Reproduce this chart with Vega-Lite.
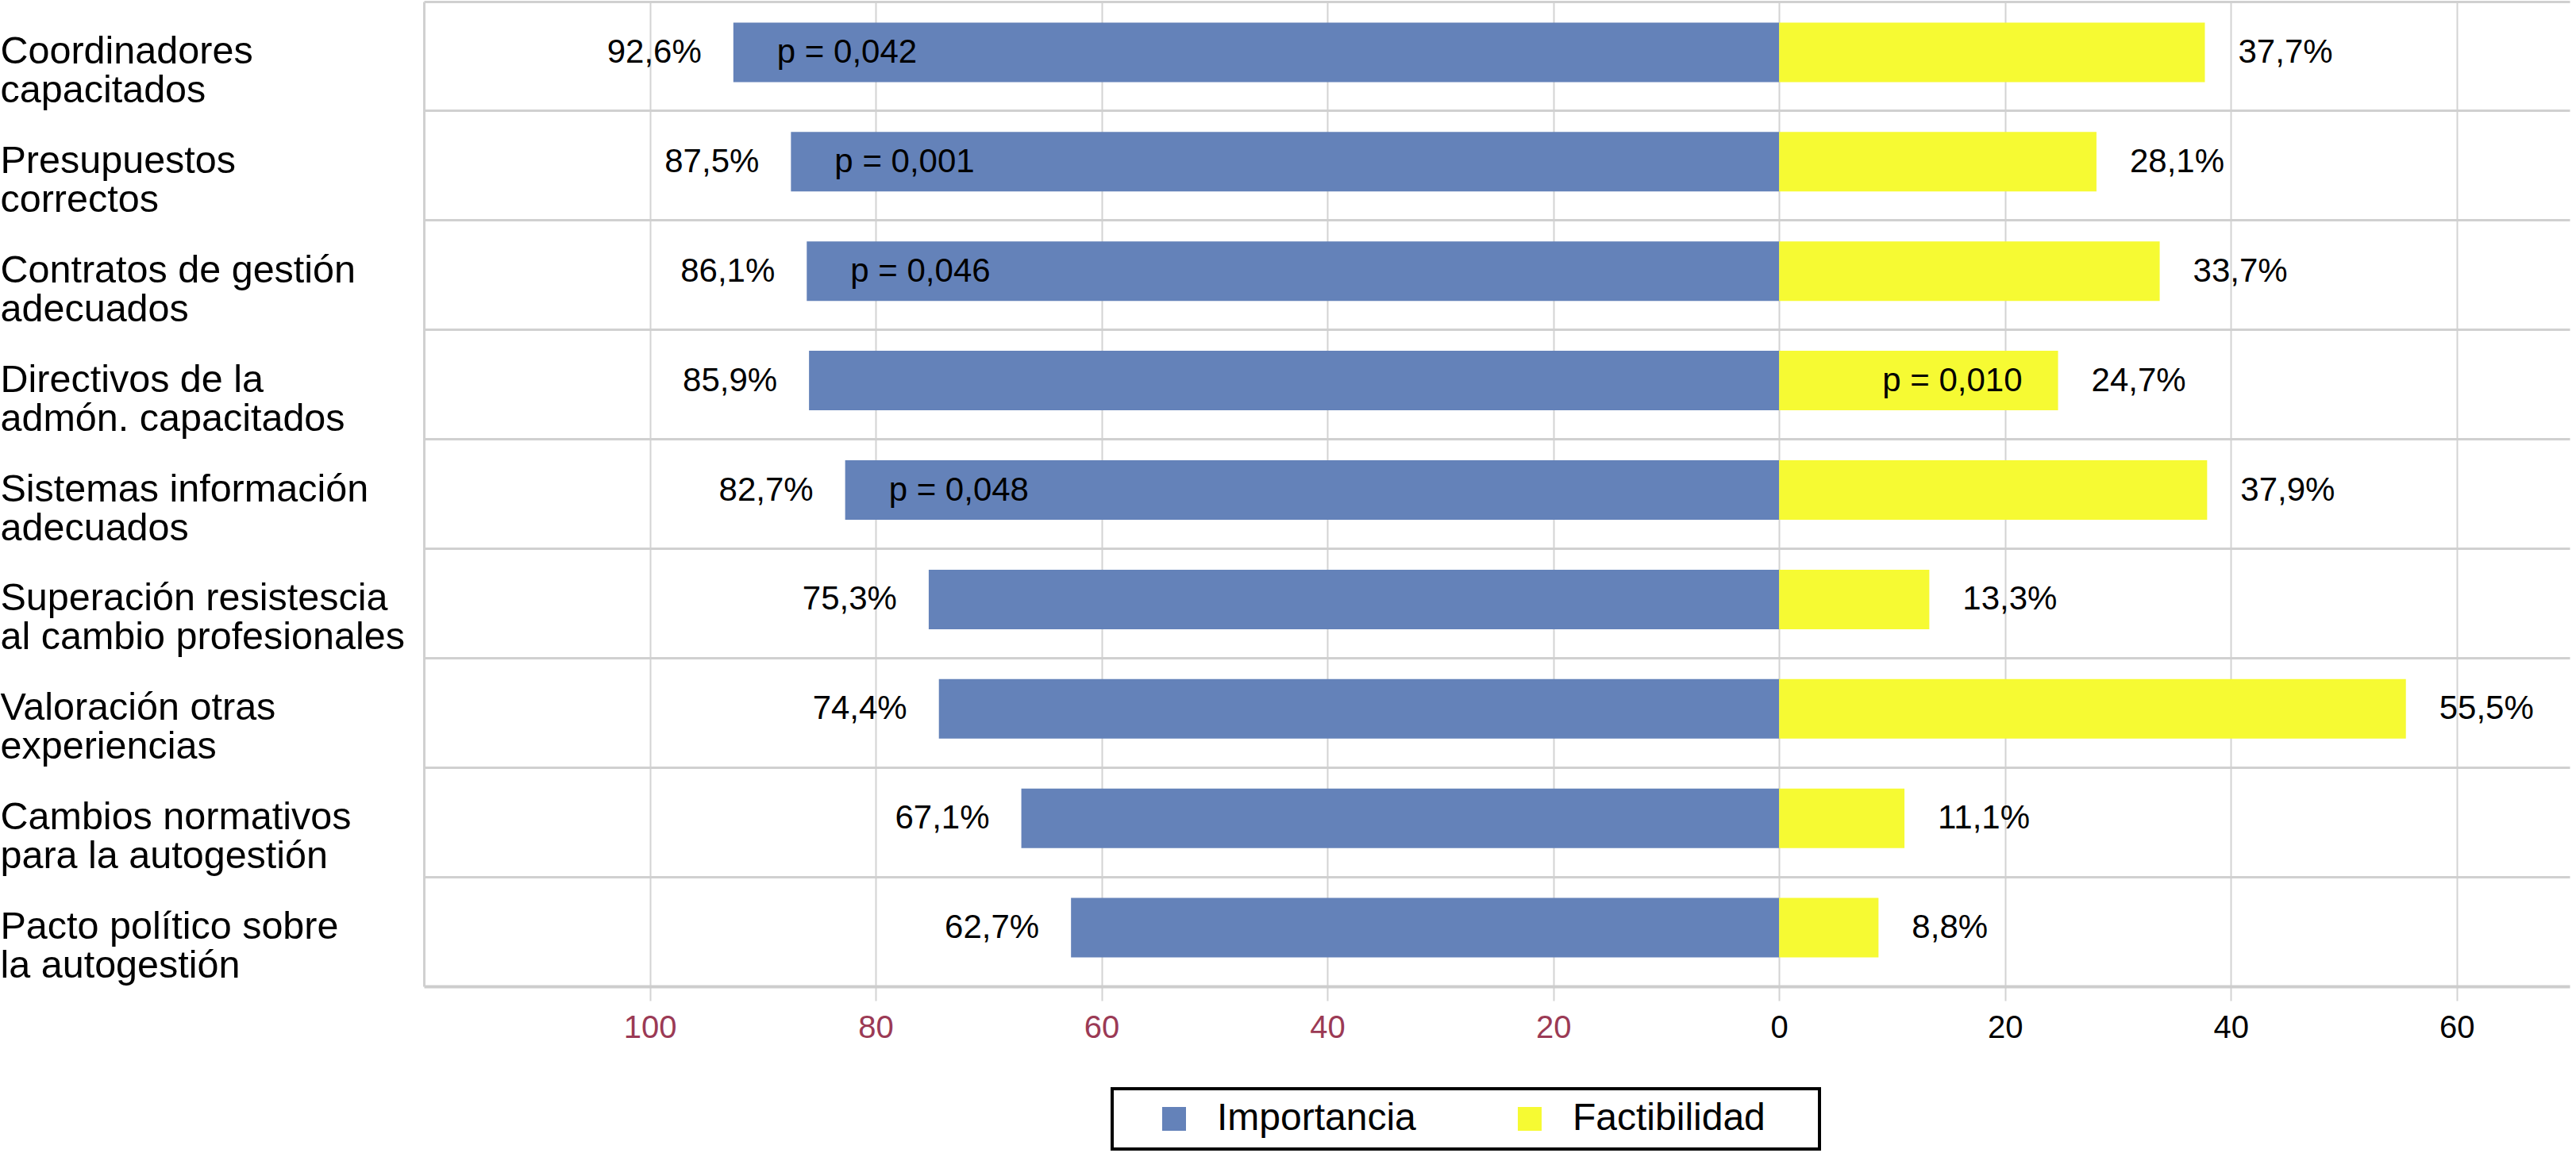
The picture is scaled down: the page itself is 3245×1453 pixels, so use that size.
{
  "$schema": "https://vega.github.io/schema/vega-lite/v6.json",
  "width": 2703,
  "height": 1241,
  "autosize": {"type": "none"},
  "padding": {"left": 534, "top": 2, "right": 8, "bottom": 210},
  "background": "white",
  "data": {
    "values": [
      {"factor": "Coordinadores|capacitados", "serie": "Importancia", "valor": -92.6, "etiqueta": "92,6%", "p": "p = 0,042"},
      {"factor": "Coordinadores|capacitados", "serie": "Factibilidad", "valor": 37.7, "etiqueta": "37,7%", "p": null},
      {"factor": "Presupuestos|correctos", "serie": "Importancia", "valor": -87.5, "etiqueta": "87,5%", "p": "p = 0,001"},
      {"factor": "Presupuestos|correctos", "serie": "Factibilidad", "valor": 28.1, "etiqueta": "28,1%", "p": null},
      {"factor": "Contratos de gestión|adecuados", "serie": "Importancia", "valor": -86.1, "etiqueta": "86,1%", "p": "p = 0,046"},
      {"factor": "Contratos de gestión|adecuados", "serie": "Factibilidad", "valor": 33.7, "etiqueta": "33,7%", "p": null},
      {"factor": "Directivos de la|admón. capacitados", "serie": "Importancia", "valor": -85.9, "etiqueta": "85,9%", "p": null},
      {"factor": "Directivos de la|admón. capacitados", "serie": "Factibilidad", "valor": 24.7, "etiqueta": "24,7%", "p": "p = 0,010"},
      {"factor": "Sistemas información|adecuados", "serie": "Importancia", "valor": -82.7, "etiqueta": "82,7%", "p": "p = 0,048"},
      {"factor": "Sistemas información|adecuados", "serie": "Factibilidad", "valor": 37.9, "etiqueta": "37,9%", "p": null},
      {"factor": "Superación resistescia|al cambio profesionales", "serie": "Importancia", "valor": -75.3, "etiqueta": "75,3%", "p": null},
      {"factor": "Superación resistescia|al cambio profesionales", "serie": "Factibilidad", "valor": 13.3, "etiqueta": "13,3%", "p": null},
      {"factor": "Valoración otras|experiencias", "serie": "Importancia", "valor": -74.4, "etiqueta": "74,4%", "p": null},
      {"factor": "Valoración otras|experiencias", "serie": "Factibilidad", "valor": 55.5, "etiqueta": "55,5%", "p": null},
      {"factor": "Cambios normativos|para la autogestión", "serie": "Importancia", "valor": -67.1, "etiqueta": "67,1%", "p": null},
      {"factor": "Cambios normativos|para la autogestión", "serie": "Factibilidad", "valor": 11.1, "etiqueta": "11,1%", "p": null},
      {"factor": "Pacto político sobre|la autogestión", "serie": "Importancia", "valor": -62.7, "etiqueta": "62,7%", "p": null},
      {"factor": "Pacto político sobre|la autogestión", "serie": "Factibilidad", "valor": 8.8, "etiqueta": "8,8%", "p": null}
    ]
  },
  "encoding": {
    "x": {
      "field": "valor",
      "type": "quantitative",
      "scale": {"domain": [-120, 70], "nice": false, "zero": false},
      "axis": {
        "title": null,
        "values": [-100, -80, -60, -40, -20, 0, 20, 40, 60],
        "labelExpr": "'' + abs(datum.value)",
        "grid": true,
        "gridColor": "#d3d3d3",
        "gridWidth": 2,
        "domain": true,
        "domainColor": "#cdcdcd",
        "domainWidth": 4,
        "ticks": true,
        "tickColor": "#d3d3d3",
        "tickWidth": 2,
        "tickSize": 18,
        "labelPadding": 14,
        "labelFont": "Liberation Sans",
        "labelFontSize": 40,
        "labelColor": {"condition": {"test": "datum.value < 0", "value": "#9B3A55"}, "value": "black"}
      }
    },
    "y": {
      "field": "factor",
      "type": "nominal",
      "sort": null,
      "scale": {"paddingInner": 0, "paddingOuter": 0},
      "axis": {
        "title": null,
        "grid": true,
        "gridColor": "#d0d0d0",
        "gridWidth": 3,
        "bandPosition": 0,
        "ticks": false,
        "tickSize": 0,
        "domain": true,
        "domainColor": "#d0d0d0",
        "domainWidth": 3,
        "labelAlign": "left",
        "labelBaseline": "middle",
        "labelPadding": 534,
        "labelOffset": -6,
        "labelFont": "Liberation Sans",
        "labelFontSize": 48.5,
        "labelLineHeight": 49,
        "labelColor": "black",
        "labelLimit": 0,
        "labelOverlap": false,
        "labelExpr": "split(datum.label, '|')"
      }
    }
  },
  "layer": [
    {
      "mark": {"type": "bar", "height": {"band": 0.544}, "yOffset": -5},
      "encoding": {
        "color": {
          "field": "serie",
          "type": "nominal",
          "scale": {"domain": ["Importancia", "Factibilidad"], "range": ["#6482B9", "#F6FA33"]},
          "legend": {
            "orient": "none",
            "legendX": 867,
            "legendY": 1370,
            "direction": "horizontal",
            "title": null,
            "symbolType": "square",
            "symbolSize": 900,
            "symbolStrokeWidth": 0,
            "symbolOffset": 40,
            "labelOffset": 30,
            "columnPadding": 79,
            "labelFont": "Liberation Sans",
            "labelFontSize": 48,
            "labelColor": "black",
            "labelLimit": 0,
            "labelExpr": "datum.label == 'Factibilidad' ? datum.label + '\u00a0\u00a0\u00a0\u00a0\u200b' : datum.label",
            "padding": 14,
            "strokeColor": "black",
            "fillColor": "white"
          }
        }
      }
    },
    {
      "transform": [{"filter": "datum.serie == 'Importancia'"}],
      "mark": {"type": "text", "align": "right", "baseline": "middle", "dx": -40, "dy": -5, "font": "Liberation Sans", "fontSize": 42, "color": "black"},
      "encoding": {"text": {"field": "etiqueta"}}
    },
    {
      "transform": [{"filter": "datum.serie == 'Factibilidad'"}],
      "mark": {"type": "text", "align": "left", "baseline": "middle", "dx": 42, "dy": -5, "font": "Liberation Sans", "fontSize": 42, "color": "black"},
      "encoding": {"text": {"field": "etiqueta"}}
    },
    {
      "transform": [{"filter": "datum.serie == 'Importancia' && datum.p != null"}],
      "mark": {"type": "text", "align": "left", "baseline": "middle", "dx": 55, "dy": -5, "font": "Liberation Sans", "fontSize": 42, "color": "black"},
      "encoding": {"text": {"field": "p"}}
    },
    {
      "transform": [{"filter": "datum.serie == 'Factibilidad' && datum.p != null"}],
      "mark": {"type": "text", "align": "right", "baseline": "middle", "dx": -45, "dy": -5, "font": "Liberation Sans", "fontSize": 42, "color": "black"},
      "encoding": {"text": {"field": "p"}}
    }
  ],
  "config": {
    "view": {"stroke": null},
    "font": "Liberation Sans",
    "legend": {"strokeWidth": 4}
  }
}
